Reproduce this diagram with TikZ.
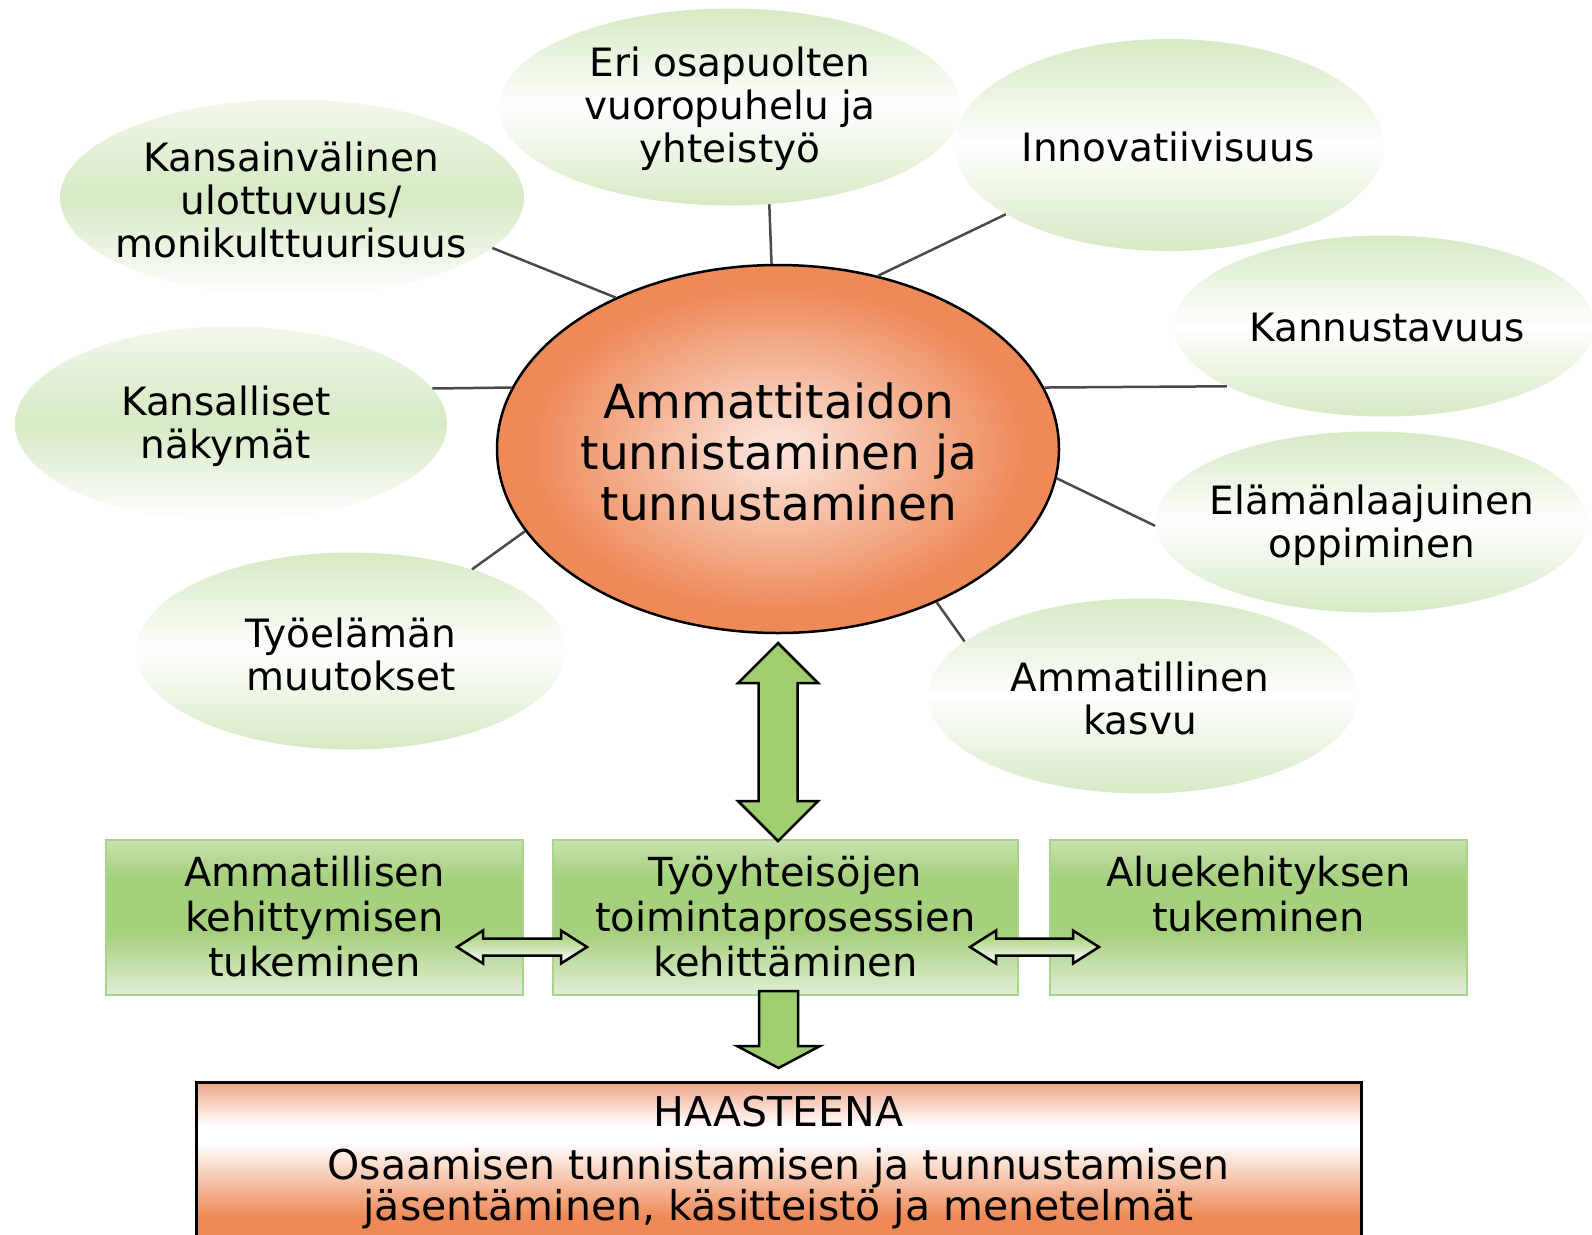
\documentclass[tikz,border=0pt]{standalone}
\usepackage{fontspec}
\setmainfont{DejaVu Sans}
\usepackage{tikz}
\usetikzlibrary{positioning,shapes.geometric}

\definecolor{bubgreen}{HTML}{D6EAC4}
\definecolor{ringorange}{HTML}{EE8958}
\definecolor{ringlight}{HTML}{FAE0D4}
\definecolor{boxtop}{HTML}{C8E2B1}
\definecolor{boxmid}{HTML}{A6D07D}
\definecolor{boxlow}{HTML}{E1EFD6}
\definecolor{boxline}{HTML}{A8D48A}
\definecolor{arrowgreen}{HTML}{A0CE70}
\definecolor{spoke}{HTML}{4A4A4A}
\definecolor{htop}{HTML}{F0A588}
\definecolor{hbottom}{HTML}{EE8A58}

\pgfdeclareradialshading{ringshade}{\pgfpoint{0bp}{0bp}}{color(0bp)=(ringlight); color(2bp)=(ringlight); color(22bp)=(ringorange); color(50bp)=(ringorange)}
\pgfdeclareverticalshading{boxshade}{100bp}{color(0bp)=(boxlow); color(25bp)=(boxlow); color(45bp)=(boxmid); color(63bp)=(boxmid); color(75bp)=(boxtop); color(100bp)=(boxtop)}
\pgfdeclareverticalshading{haasteshade}{100bp}{color(0bp)=(hbottom); color(35bp)=(hbottom); color(57bp)=(white); color(62bp)=(white); color(75bp)=(htop); color(100bp)=(htop)}

\newcommand\bubblesize{\fontsize{39}{43}\selectfont}
\newcommand\coresize{\fontsize{47}{51}\selectfont}
\newcommand\boxsize{\fontsize{40}{45}\selectfont}
\newcommand\haastesize{\fontsize{41}{40.5}\selectfont\lineskiplimit=-10pt}

\tikzset{
  bubbleA/.style={ellipse, inner sep=0pt, top color=bubgreen, bottom color=bubgreen, middle color=white},
  bubbleB/.style={ellipse, inner sep=0pt, top color=bubgreen!35!white, bottom color=white, middle color=bubgreen},
  bubtext/.style={align=center, font=\bubblesize, inner sep=0pt},
  spokeline/.style={draw=spoke, line width=2.5pt},
  corebubble/.style={ellipse, draw=black, line width=2.5pt, inner sep=0pt, shade, shading=ringshade,
                     minimum width=562pt, minimum height=368pt},
  coretext/.style={align=center, font=\coresize, inner sep=0pt},
  gbox/.style={rectangle, draw=boxline, line width=2pt, shade, shading=boxshade,
               minimum width=417pt, minimum height=155pt, inner sep=0pt},
  boxtext/.style={align=center, font=\boxsize, inner sep=0pt},
  haaste/.style={rectangle, draw=black, line width=3pt, shade, shading=haasteshade,
                 minimum width=1165pt, minimum height=168pt, inner sep=0pt},
  haastetext/.style={align=center, font=\haastesize, inner sep=0pt},
  bigarrow/.style={draw=black, line width=2.5pt, fill=arrowgreen, line join=miter},
  slimarrow/.style={draw=black, line width=2.5pt, top color=arrowgreen, bottom color=white,
                    middle color=arrowgreen!55!white, line join=miter}
}

\begin{document}
\begin{tikzpicture}[x=1pt,y=-1pt]
  \useasboundingbox (0,0) rectangle (1592,1234);
  \clip (0,0) rectangle (1592,1234);

  % bubbles round the centre
  \node[bubbleA, minimum width=462pt, minimum height=197pt] (eri)     at (730,107)  {};
  \node[bubbleA, minimum width=430pt, minimum height=212pt] (innov)   at (1169,145) {};
  \node[bubbleA, minimum width=420pt, minimum height=181pt] (kann)    at (1384,326) {};
  \node[bubbleA, minimum width=432pt, minimum height=181pt] (elam)    at (1371,522) {};
  \node[bubbleA, minimum width=430pt, minimum height=195pt] (kasvu)   at (1143,696) {};
  \node[bubbleA, minimum width=430pt, minimum height=197pt] (tyoel)   at (351,651)  {};
  \node[bubbleB, minimum width=432pt, minimum height=195pt] (kansal)  at (231,424)  {};
  \node[bubbleB, minimum width=464pt, minimum height=197pt] (kansain) at (292,198)  {};

  \node[bubtext] (eritxt)     at (730,109)  {Eri osapuolten\\vuoropuhelu ja\\yhteistyö};
  \node[bubtext] (innovtxt)   at (1168,147) {Innovatiivisuus};
  \node[bubtext] (kanntxt)    at (1387,328) {Kannustavuus};
  \node[bubtext] (elamtxt)    at (1372,525) {Elämänlaajuinen\\oppiminen};
  \node[bubtext] (kasvutxt)   at (1140,698) {Ammatillinen\\kasvu};
  \node[bubtext] (tyoeltxt)   at (351,654)  {Työelämän\\muutokset};
  \node[bubtext] (kansaltxt)  at (226,426)  {Kansalliset\\näkymät};
  \node[bubtext] (kansaintxt) at (291,200)  {Kansainvälinen\\ulottuvuus/\\monikulttuurisuus};

  % the centre
  \node[corebubble] (hub) at (778,449) {};
  \node[coretext] (hubtxt) at (779,452) {Ammattitaidon\\tunnistaminen ja\\tunnustaminen};

  \draw[spokeline] (hub.92)  -- (eri.292);
  \draw[spokeline] (hub.60)  -- (innov.203);
  \draw[spokeline] (hub.13)  -- (kann.201);
  \draw[spokeline] (hub.354) -- (elam.181);
  \draw[spokeline] (hub.316) -- (kasvu.163);
  \draw[spokeline] (hub.198) -- (tyoel.34);
  \draw[spokeline] (hub.167) -- (kansal.10);
  \draw[spokeline] (hub.137) -- (kansain.346);

  % boxes
  \node[gbox] (ammb) at (314.5,917.5) {};
  \node[gbox, minimum width=465pt] (tyob) at (785.5,917.5) {};
  \node[gbox] (alueb) at (1258.5,917.5) {};
  \node[boxtext, below=17pt of ammb.north]  (ammtxt)  {Ammatillisen\\kehittymisen\\tukeminen};
  \node[boxtext, below=17pt of tyob.north]  (tyotxt)  {Työyhteisöjen\\toimintaprosessien\\kehittäminen};
  \node[boxtext, below=17pt of alueb.north] (aluetxt) {Aluekehityksen\\tukeminen};

  \node[haaste] (haastb) at (778.5,1166) {};
  \node[haastetext, below=15pt of haastb.north] (haastetxt)
    {HAASTEENA\\[13pt]Osaamisen tunnistamisen ja tunnustamisen\\jäsentäminen, käsitteistö ja menetelmät};

  % block arrows
  \coordinate (vtop) at (778,643);
  \coordinate (vbot) at (778,841);
  \draw[bigarrow] (vtop) -- ++(40,40) -- ++(-20.5,0) -- ++(0,118) -- ++(20.5,0) -- (vbot)
    -- ++(-40,-40) -- ++(20.5,0) -- ++(0,-118) -- ++(-20.5,0) -- cycle;

  \coordinate (dtop) at (778.5,991);
  \draw[bigarrow] (dtop) ++(-19.5,0) -- ++(39,0) -- ++(0,55) -- ++(22,0) -- ++(-41.5,22)
    -- ++(-41.5,-22) -- ++(22,0) -- cycle;

  \coordinate (la1) at (457,947);
  \coordinate (la2) at (587,947);
  \draw[slimarrow] (la1) -- ++(26,-16.5) -- ++(0,8) -- ++(78,0) -- ++(0,-8) -- (la2)
    -- ++(-26,16.5) -- ++(0,-8) -- ++(-78,0) -- ++(0,8) -- cycle;

  \coordinate (ra1) at (970,947);
  \coordinate (ra2) at (1099,947);
  \draw[slimarrow] (ra1) -- ++(26,-16.5) -- ++(0,8) -- ++(77,0) -- ++(0,-8) -- (ra2)
    -- ++(-26,16.5) -- ++(0,-8) -- ++(-77,0) -- ++(0,8) -- cycle;
\end{tikzpicture}
\end{document}
